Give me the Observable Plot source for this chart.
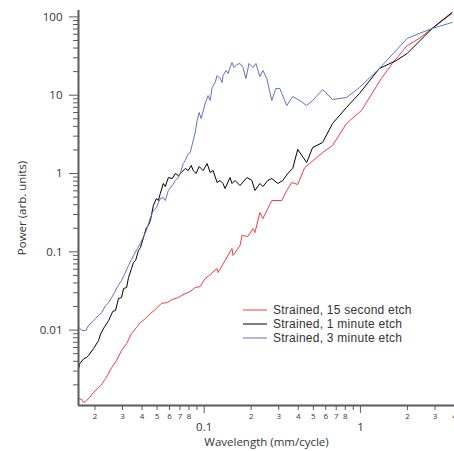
<!DOCTYPE html>
<html><head><meta charset="utf-8">
<script src="https://cdn.jsdelivr.net/npm/d3@7"></script>
<script src="https://cdn.jsdelivr.net/npm/@observablehq/plot@0.6"></script>
<style>
body{margin:0;background:#fff;}
#wrap{position:relative;width:454px;height:451px;overflow:hidden;}
.legend{position:absolute;left:243px;top:303px;font:12px "Liberation Sans", Arial, sans-serif;letter-spacing:0.25px;color:#333;white-space:nowrap}
.legend div{display:flex;align-items:center;height:14px}
.legend svg{margin-right:6px}
</style></head><body><div id="wrap"></div>
<script>
const seriesNames = ["Strained, 15 second etch", "Strained, 1 minute etch", "Strained, 3 minute etch"];
const seriesColors = ["#ef3e3e", "#000000", "#5874c4"];

const redWavelength = [0.0158,0.0165,0.0170,0.0177,0.0185,0.0196,0.0208,0.0218,0.0234,0.0256,0.0275,0.0296,0.0319,0.0343,0.0369,0.0391,0.0421,0.0453,0.0487,0.0532,0.0581,0.0625,0.0683,0.0757,0.0814,0.0876,0.0943,0.1015,0.1092,0.1210,0.1228,0.1361,0.1508,0.1530,0.1696,0.1746,0.1907,0.2051,0.2113,0.2274,0.2376,0.2710,0.3139,0.3378,0.3635,0.3969,0.4396,0.4733,0.5728,0.6632,0.8143,1.015,1.360,1.599,1.992,2.376,2.875,3.855];
const redPower = [0.00134,0.00130,0.00119,0.00126,0.00138,0.00160,0.00180,0.00196,0.00241,0.00333,0.00409,0.00549,0.00674,0.00905,0.0108,0.0125,0.0141,0.0163,0.0183,0.0219,0.0225,0.0246,0.0261,0.0293,0.0311,0.0350,0.0360,0.0456,0.0513,0.0612,0.0544,0.0774,0.110,0.0897,0.120,0.162,0.157,0.198,0.176,0.318,0.266,0.452,0.452,0.607,0.767,0.724,1.19,1.34,1.85,2.28,4.35,6.38,16.3,25.4,43.1,53.0,71.1,110.5];

const blackWavelength = [0.0158,0.0160,0.0170,0.0177,0.0182,0.0196,0.0211,0.0218,0.0231,0.0245,0.0260,0.0271,0.0283,0.0296,0.0305,0.0319,0.0328,0.0343,0.0353,0.0364,0.0380,0.0391,0.0409,0.0427,0.0440,0.0453,0.0473,0.0495,0.0509,0.0524,0.0548,0.0564,0.0590,0.0625,0.0654,0.0683,0.0714,0.0757,0.0791,0.0827,0.0851,0.0889,0.0929,0.0985,0.1045,0.1092,0.1141,0.1210,0.1264,0.1321,0.1361,0.1464,0.1508,0.1576,0.1696,0.1879,0.2021,0.2113,0.2274,0.2376,0.2556,0.2710,0.2960,0.3185,0.3428,0.3689,0.3969,0.4529,0.4945,0.5728,0.6632,0.8143,0.9854,1.321,1.696,1.992,2.875,3.855];
const blackPower = [0.00333,0.00374,0.00434,0.00447,0.00474,0.00582,0.00737,0.00905,0.0111,0.0133,0.0173,0.0178,0.0253,0.0261,0.0340,0.0350,0.0470,0.0612,0.0730,0.0774,0.104,0.113,0.152,0.204,0.217,0.251,0.390,0.479,0.452,0.555,0.745,0.682,0.889,0.863,1.00,0.943,1.03,1.16,1.09,1.27,1.09,1.00,1.23,1.09,1.34,1.03,1.09,0.767,0.814,0.745,0.643,0.889,0.745,0.814,0.703,0.889,0.814,0.607,0.745,0.682,0.814,0.863,0.745,0.814,1.00,1.16,2.03,1.38,2.15,2.49,4.35,6.97,10.5,21.9,27.7,34.1,71.1,113.8];

const blueWavelength = [0.0158,0.0165,0.0175,0.0182,0.0191,0.0202,0.0211,0.0221,0.0234,0.0245,0.0256,0.0267,0.0279,0.0296,0.0309,0.0328,0.0343,0.0353,0.0374,0.0391,0.0409,0.0427,0.0453,0.0473,0.0495,0.0524,0.0548,0.0564,0.0590,0.0625,0.0654,0.0683,0.0703,0.0735,0.0757,0.0791,0.0814,0.0851,0.0876,0.0902,0.0929,0.0957,0.1015,0.1060,0.1092,0.1124,0.1175,0.1210,0.1264,0.1302,0.1321,0.1381,0.1422,0.1464,0.1508,0.1553,0.1622,0.1696,0.1772,0.1851,0.1935,0.2051,0.2144,0.2274,0.2376,0.2519,0.2710,0.2874,0.3048,0.3378,0.3689,0.4088,0.4529,0.4945,0.5728,0.6632,0.8143,0.9854,1.321,1.992,2.376,2.875,3.855];
const bluePower = [0.0108,0.00988,0.00988,0.0115,0.0125,0.0141,0.0154,0.0168,0.0206,0.0225,0.0261,0.0302,0.0360,0.0430,0.0513,0.0668,0.0797,0.0897,0.110,0.128,0.157,0.187,0.274,0.337,0.368,0.479,0.494,0.452,0.607,0.703,0.814,0.889,1.00,1.34,1.47,1.80,1.85,2.64,3.34,4.75,6.01,5.04,7.83,9.91,8.56,12.5,14.5,17.8,16.3,14.5,17.8,20.7,18.9,22.6,26.2,22.6,24.7,25.4,22.6,16.3,25.4,22.6,25.4,17.3,20.7,16.3,8.56,12.2,12.2,7.39,9.63,8.56,7.39,8.56,11.8,8.81,9.35,12.5,21.9,53.0,61.4,71.1,84.8];

const xDomain = [0.0157, 4.0];
const yDomain = [0.00109, 120.7];
const yMajorTicks = [0.01, 0.1, 1, 10, 100];
const yMajorLabels = ["0.01", "0.1", "1", "10", "100"];
const yMinorTicks = [0.002,0.003,0.004,0.005,0.006,0.007,0.008,0.009,0.02,0.03,0.04,0.05,0.06,0.07,0.08,0.09,0.2,0.3,0.4,0.5,0.6,0.7,0.8,0.9,2,3,4,5,6,7,8,9,20,30,40,50,60,70,80,90];
const xMajorTicks = [0.1, 1];
const xMajorLabels = ["0.1", "1"];
const xMinorTicks = [0.02,0.03,0.04,0.05,0.06,0.07,0.08,0.09,0.2,0.3,0.4,0.5,0.6,0.7,0.8,0.9,2,3,4];
const xMinorLabels = ["2","3","4","5","6","7","8","","2","3","4","5","6","7","8","","2","3","4"];

const rows = [];
[[redWavelength, redPower], [blackWavelength, blackPower], [blueWavelength, bluePower]].forEach(([xs, ys], s) => {
  xs.forEach((x, i) => rows.push({series: seriesNames[s], wavelength: x, power: ys[i]}));
});

const W = 454, H = 451, mL = 78, mR = 0, mT = 10, mB = 46;
const axisColor = "#5a5a5a";
const font = "'Open Sans', sans-serif";
const chart = Plot.plot({
  width: W, height: H,
  marginLeft: mL, marginRight: mR, marginTop: mT, marginBottom: mB,
  style: {fontFamily: font, fontSize: "11px", color: "#333", background: "white"},
  x: {type: "log", domain: xDomain},
  y: {type: "log", domain: yDomain},
  color: {domain: seriesNames, range: seriesColors},
  marks: [
    // minor ticks (drawn manually)
    Plot.tickY(yMinorTicks, {y: d => d, insetRight: (W - mL - mR) - 5, dx: -5, stroke: axisColor}),
    Plot.tickX(xMinorTicks, {x: d => d, insetTop: (H - mT - mB) - 5, dy: 5, stroke: axisColor}),
    Plot.text(xMinorTicks, {x: d => d, frameAnchor: "bottom", text: (d, i) => xMinorLabels[i], dy: 11, fontSize: 8, lineAnchor: "middle", fill: "#333"}),
    // major ticks & labels
    Plot.axisY(yMajorTicks, {tickSize: 9, tickPadding: 7, tickFormat: d => yMajorLabels[yMajorTicks.indexOf(d)], fontSize: 11.5, stroke: axisColor, fill: "#333",
      label: "Power (arb. units)", labelAnchor: "center", labelOffset: 61, labelArrow: "none"}),
    Plot.axisX(xMajorTicks, {tickSize: 8, tickPadding: 9, tickFormat: d => xMajorLabels[xMajorTicks.indexOf(d)], fontSize: 11.5, stroke: axisColor, fill: "#333",
      label: "Wavelength (mm/cycle)", labelAnchor: "center", labelOffset: 40, labelArrow: "none"}),
    Plot.line(rows, {x: "wavelength", y: "power", stroke: "series", z: "series", strokeWidth: 1}),
    Plot.ruleX([xDomain[0]], {stroke: axisColor, strokeWidth: 2}),
    Plot.ruleY([yDomain[0]], {stroke: axisColor, strokeWidth: 2})
  ]
});
const wrap = document.getElementById("wrap");
wrap.appendChild(chart);
const legend = document.createElement("div");
legend.className = "legend";
seriesNames.forEach((name, i) => {
  const item = document.createElement("div");
  item.innerHTML = `<svg width="24" height="4"><line x1="0" x2="24" y1="2" y2="2" stroke="${seriesColors[i]}" stroke-width="1"/></svg><span>${name}</span>`;
  legend.appendChild(item);
});
wrap.appendChild(legend);
</script>
</body></html>
